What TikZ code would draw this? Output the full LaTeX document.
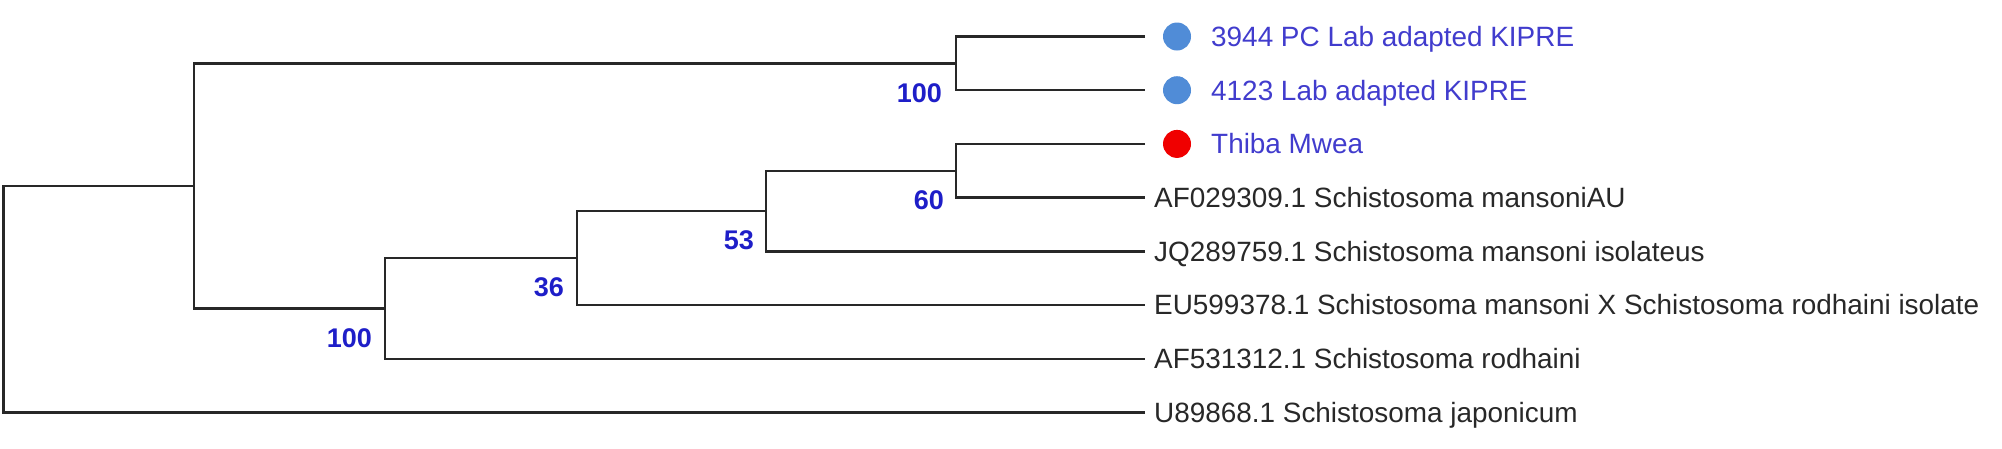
\documentclass[tikz,border=0pt]{standalone}
\usepackage{fontspec}
\setmainfont{Liberation Sans}
\definecolor{treeline}{RGB}{40,40,40}
\definecolor{leafgray}{RGB}{40,40,40}
\definecolor{leafblue}{RGB}{65,60,205}
\definecolor{bootblue}{RGB}{30,30,200}
\definecolor{dotblue}{RGB}{80,140,215}
\definecolor{dotred}{RGB}{240,0,0}
\begin{document}
\begin{tikzpicture}[x=1pt,y=-1pt,
  branch/.style={line width=2.4pt, draw=treeline},
  leaflab/.style={anchor=base west, inner sep=0pt, text=leafgray, font=\fontsize{27.9}{30}\selectfont},
  bluelab/.style={leaflab, text=leafblue},
  boot/.style={anchor=north east, inner sep=0pt, text=bootblue, font=\bfseries\fontsize{27}{30}\selectfont},
  tipdot/.style={circle, minimum size=28pt, inner sep=0pt}]
\useasboundingbox (0,0) rectangle (2002,448);
% leaf tips
\coordinate (L0) at (1145,36.5);
\coordinate (L1) at (1145,90.2);
\coordinate (L2) at (1145,143.9);
\coordinate (L3) at (1145,197.6);
\coordinate (L4) at (1145,251.3);
\coordinate (L5) at (1145,305);
\coordinate (L6) at (1145,358.7);
\coordinate (L7) at (1145,412.4);
% internal nodes
\coordinate (nA) at (956,63.35);
\coordinate (n60) at (956,170.75);
\coordinate (n53) at (766,211.03);
\coordinate (n36) at (577,258.01);
\coordinate (nB) at (385,308.36);
\coordinate (n1) at (194,185.85);
\coordinate (root) at (3.3,299.1);
% branches
\draw[branch] (L0) -| (nA) |- (L1);
\draw[branch] (L2) -| (n60) |- (L3);
\draw[branch] (n60) -| (n53) |- (L4);
\draw[branch] (n53) -| (n36) |- (L5);
\draw[branch] (n36) -| (nB) |- (L6);
\draw[branch] (nA) -| (n1) |- (nB);
\draw[branch] (n1) -| (root) |- (L7);
% bootstrap values
\node[boot] (bA) at ([xshift=-14pt,yshift=-20pt]nA) {100};
\node[boot] (b60) at ([xshift=-12pt,yshift=-20pt]n60) {60};
\node[boot] (b53) at ([xshift=-12pt,yshift=-19pt]n53) {53};
\node[boot] (b36) at ([xshift=-13pt,yshift=-19pt]n36) {36};
\node[boot] (bB) at ([xshift=-13pt,yshift=-20pt]nB) {100};
% markers
\node[tipdot, fill=dotblue] (d0) at (1177,36.5) {};
\node[tipdot, fill=dotblue] (d1) at (1177,90.2) {};
\node[tipdot, fill=dotred] (d2) at (1177,143.9) {};
% leaf labels
\node[bluelab] (t0) at (1211,46.4) {3944 PC Lab adapted KIPRE};
\node[bluelab] (t1) at (1211,100.1) {4123 Lab adapted KIPRE};
\node[bluelab] (t2) at (1211,153.8) {Thiba Mwea};
\node[leaflab] (t3) at (1154,207.5) {AF029309.1 Schistosoma mansoniAU};
\node[leaflab] (t4) at (1154,261.2) {JQ289759.1 Schistosoma mansoni isolateus};
\node[leaflab] (t5) at (1154,314.9) {EU599378.1 Schistosoma mansoni X Schistosoma rodhaini isolate};
\node[leaflab] (t6) at (1154,368.6) {AF531312.1 Schistosoma rodhaini};
\node[leaflab] (t7) at (1154,422.3) {U89868.1 Schistosoma japonicum};
\end{tikzpicture}
\end{document}
